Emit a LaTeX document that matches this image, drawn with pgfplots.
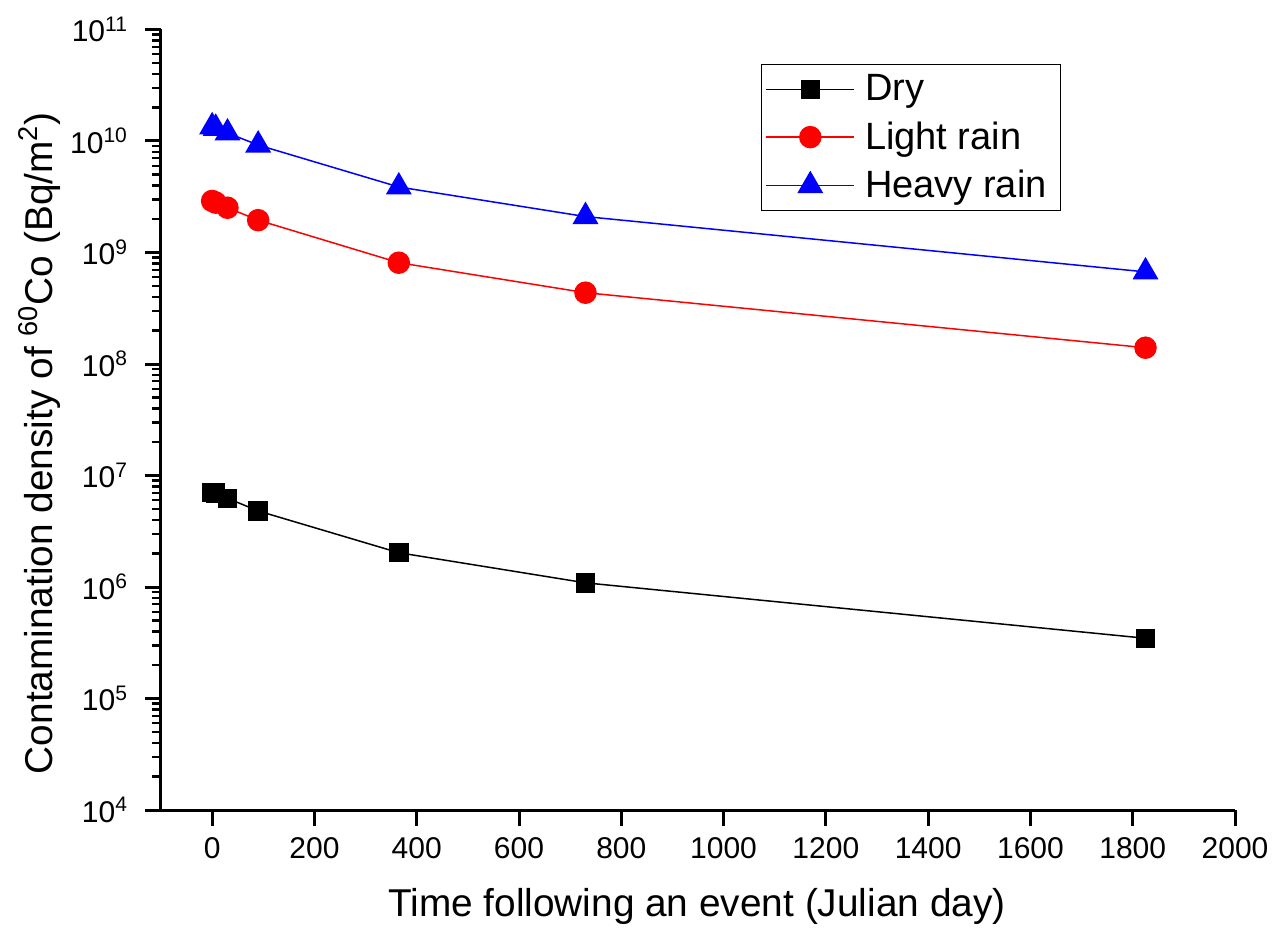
\documentclass[border=0pt]{standalone}
\usepackage{fontspec}
\setmainfont{Liberation Sans}
\usepackage{pgfplots}
\pgfplotsset{compat=1.18}
\begin{document}
\begin{tikzpicture}
\begin{axis}[
  scale only axis,
  width=537pt, height=390.25pt,
  at={(0,0)}, anchor=south west,
  ymode=log,
  xmin=-100, xmax=2000,
  ymin=1e4, ymax=1e11,
  axis lines=left,
  axis line style={-, line width=1.5pt},
  every outer x axis line/.append style={-, line width=1.5pt},
  every outer y axis line/.append style={-, line width=1.5pt},
  tick align=outside,
  major tick length=8pt,
  minor tick length=4.5pt,
  every tick/.style={black, line width=1.5pt},
  minor tick style={line width=1.2pt},
  xtick={0,200,400,600,800,1000,1200,1400,1600,1800,2000},
  xticklabels={0,200,400,600,800,1000,1200,1400,1600,1800,2000},
  minor xtick={},
  ytick={1e4,1e5,1e6,1e7,1e8,1e9,1e10,1e11},
  yticklabels={10\textsuperscript{4},10\textsuperscript{5},10\textsuperscript{6},10\textsuperscript{7},10\textsuperscript{8},10\textsuperscript{9},10\textsuperscript{10},10\textsuperscript{11}},
  ticklabel style={font=\fontsize{15}{17}\selectfont},
  xticklabel style={yshift=-2pt},
  yticklabel style={xshift=-5pt},
  xlabel={Time following an event (Julian day)},
  ylabel={Contamination density of \textsuperscript{60}Co (Bq/m\textsuperscript{2})},
  label style={font=\fontsize{19.4}{22}\selectfont},
  xlabel style={at={(axis description cs:0.499,-0.124)}, anchor=center},
  ylabel style={at={(axis description cs:-0.1127,0.47)}, anchor=center, rotate=0},
  clip=false,
  legend style={at={(axis description cs:0.5587,0.9555)}, anchor=north west,
    draw=black, line width=0.5pt, font=\fontsize{19}{22}\selectfont,
    inner xsep=2pt, inner ysep=3pt, row sep=5pt,
    nodes={inner xsep=5pt}},
  legend cell align=left,
  legend image code/.code={\draw[mark repeat=2,mark phase=2] plot coordinates {(0pt,0pt) (22pt,0pt) (44pt,0pt)};},
]
\addplot[black, line width=0.75pt, mark=square*, mark size=4.5pt, mark options={solid}] coordinates {
(0,7.07e6) (7,6.95e6) (30,6.25e6) (90,4.81e6) (365,2.03e6) (730,1.09e6) (1825,3.47e5)};
\addlegendentry{Dry}
\addplot[red, line width=0.75pt, mark=*, mark size=5.25pt, mark options={solid, fill=red}] coordinates {
(0,2.9e9) (7,2.8e9) (30,2.52e9) (90,1.95e9) (365,8.1e8) (730,4.36e8) (1825,1.4e8)};
\addlegendentry{Light rain}
\addplot[blue, line width=0.75pt, mark=triangle*, mark size=6.75pt, mark options={solid, fill=blue}] coordinates {
(0,1.34e10) (7,1.3e10) (30,1.18e10) (90,9.2e9) (365,3.87e9) (730,2.1e9) (1825,6.7e8)};
\addlegendentry{Heavy rain}
\end{axis}
\pgfresetboundingbox
\useasboundingbox (-80.5pt,-62pt) rectangle (558pt,405pt);
\end{tikzpicture}
\end{document}
